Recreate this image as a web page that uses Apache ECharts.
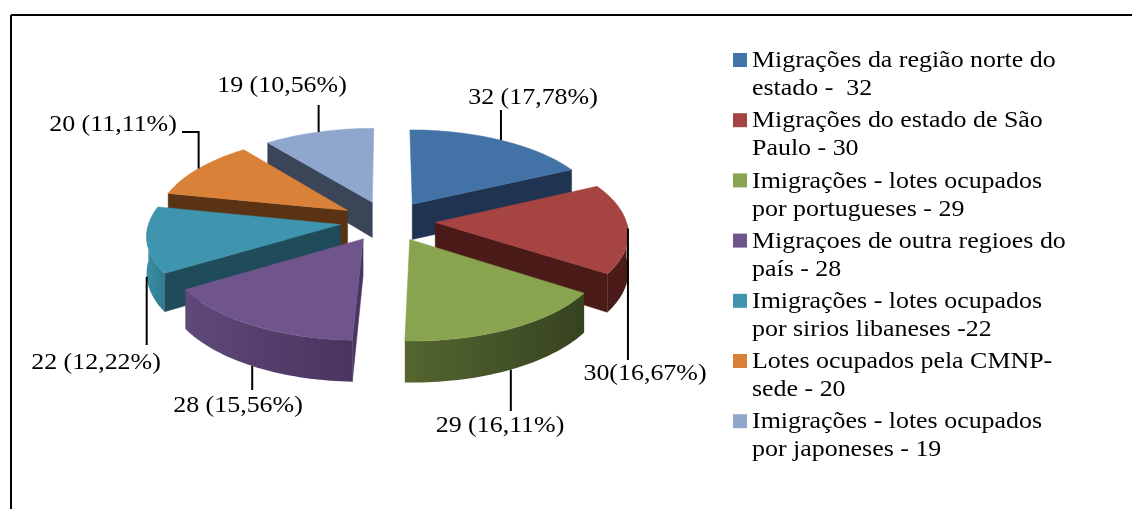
<!DOCTYPE html>
<html><head><meta charset="utf-8">
<style>html,body{margin:0;padding:0;background:#fff}#c{width:1132px;height:509px}</style>
<script src="https://cdn.jsdelivr.net/npm/echarts@6/dist/echarts.min.js"></script>
</head><body><div id="c"></div>
<script>
const categories = [
  'Migrações da região norte do\nestado -  32',
  'Migrações do estado de São\nPaulo - 30',
  'Imigrações - lotes ocupados\npor portugueses - 29',
  'Migraçoes de outra regioes do\npaís - 28',
  'Imigrações - lotes ocupados\npor sirios libaneses -22',
  'Lotes ocupados pela CMNP-\nsede - 20',
  'Imigrações - lotes ocupados\npor japoneses - 19'
];
const values = [32, 30, 29, 28, 22, 20, 19];
const valueLabels = ['32 (17,78%)', '30(16,67%)', '29 (16,11%)', '28 (15,56%)', '22 (12,22%)', '20 (11,11%)', '19 (10,56%)'];
const topColors = ['#4373a6', '#a64442', '#88a44e', '#70558c', '#3f94ae', '#d98139', '#8fa6cd'];
const faceColors = ['#1f3450', '#4a1b18', '#384520', '#4b3560', '#204b5a', '#5a3214', '#3a4558'];
const rimLeft = ['#1f3450', '#4a1b18', '#55662f', '#5e4a78', '#3b8ea6', '#5a3214', '#3a4558'];
const rimRight = ['#1f3450', '#4a1b18', '#364320', '#4a3460', '#2f7a90', '#5a3214', '#3a4558'];
// label layout: text centre, leader end y, optional elbow x
const labelX = [533, 645, 500, 238, 96, 113, 282];
const labelY = [98, 374, 426, 406, 363, 125, 86];
const leaderEndY = [110, 360, 411, 390, 345, 132, 105];
const leaderElbowX = [null, null, null, null, null, 182, null];

// projection of the tilted pie
const CX = 387.5, CY = 221, RX = 191, RY = 86, K = 0.11, DEPTH = 36, EXPLODE_U = 0.25, EXPLODE_V = 0.235;
const TEXT_FONT = 'Liberation Serif', FONT_PX = 24, SX = 1.08;

const total = values.reduce((a, b) => a + b, 0);
function project(u, v, h) {
  const s = 1 / (1 - K * v);
  return [CX + RX * u * s, CY + RY * v * s + h * DEPTH * s];
}
const spans = [];
values.reduce((acc, val) => {
  const a0 = acc / total * 2 * Math.PI, a1 = (acc + val) / total * 2 * Math.PI;
  spans.push([a0, a1]);
  return acc + val;
}, 0);
const mids = spans.map(s => (s[0] + s[1]) / 2);
const order = mids.map((m, i) => [-Math.cos(m), i]).sort((a, b) => a[0] - b[0]).map(p => p[1]);
const rank = values.map((_, i) => order.indexOf(i));

function wedgePoint(i, ang, r, h) {
  const m = mids[i];
  const u = EXPLODE_U * Math.sin(m) + r * Math.sin(ang);
  const v = -EXPLODE_V * Math.cos(m) - r * Math.cos(ang);
  return project(u, v, h);
}
function arcAngles(a0, a1) {
  const out = [], n = 40;
  for (let j = 0; j <= n; j++) out.push(a0 + (a1 - a0) * j / n);
  return out;
}
function renderSlice(params, api) {
  const i = params.dataIndex;
  const [a0, a1] = spans[i];
  const base = rank[i] * 10;
  const children = [];
  const poly = (pts, fill, z2) => children.push({
    type: 'polygon', z2, shape: { points: pts }, style: { fill, stroke: fill, lineWidth: 0.5 }
  });
  const radial = (ang, z2) => poly([
    wedgePoint(i, ang, 0, 0), wedgePoint(i, ang, 1, 0),
    wedgePoint(i, ang, 1, 1), wedgePoint(i, ang, 0, 1)
  ], faceColors[i], z2);
  if (Math.sin(a0) < -1e-6) radial(a0, base);
  if (Math.sin(a1) > 1e-6) radial(a1, base + 1);
  const r0 = Math.max(a0, Math.PI / 2), r1 = Math.min(a1, 3 * Math.PI / 2);
  if (r1 > r0) {
    const arc = arcAngles(r0, r1);
    const pts = arc.map(t => wedgePoint(i, t, 1, 0)).concat(arc.slice().reverse().map(t => wedgePoint(i, t, 1, 1)));
    children.push({
      type: 'polygon', z2: base + 2, shape: { points: pts },
      style: {
        fill: new echarts.graphic.LinearGradient(0, 0, 1, 0, [
          { offset: 0, color: rimLeft[i] }, { offset: 1, color: rimRight[i] }
        ])
      }
    });
  }
  const topPts = [wedgePoint(i, a0, 0, 0)].concat(arcAngles(a0, a1).map(t => wedgePoint(i, t, 1, 0)));
  poly(topPts, topColors[i], base + 3);

  // leader line and value label
  const c = Math.cos(mids[i]);
  const start = wedgePoint(i, mids[i], 1, c < -0.1 ? 1 : 0);
  const line = [start];
  if (leaderElbowX[i] !== null) {
    line.push([start[0], leaderEndY[i]], [leaderElbowX[i], leaderEndY[i]]);
  } else {
    line.push([start[0], leaderEndY[i]]);
  }
  children.push({
    type: 'polyline', z2: 200, shape: { points: line },
    style: { fill: 'none', stroke: '#000', lineWidth: 2 }
  });
  children.push({
    type: 'text', z2: 201, x: labelX[i], y: labelY[i], scaleX: SX,
    style: {
      text: valueLabels[i], x: 0, y: 0, align: 'center', verticalAlign: 'middle',
      font: FONT_PX + 'px "' + TEXT_FONT + '"', fill: '#000'
    }
  });
  return { type: 'group', children };
}

// frame and legend
const graphicEls = [
  { type: 'line', shape: { x1: 11, y1: 15, x2: 1132, y2: 15 }, style: { stroke: '#000', lineWidth: 2 } },
  { type: 'line', shape: { x1: 11, y1: 15, x2: 11, y2: 509 }, style: { stroke: '#000', lineWidth: 2 } }
];
categories.forEach((name, i) => {
  const y = 60 + i * 60.2;
  graphicEls.push({ type: 'rect', shape: { x: 733, y: y - 7, width: 14, height: 14 }, style: { fill: topColors[i] } });
  name.split('\n').forEach((line, j) => {
    graphicEls.push({
      type: 'text', x: 752, y: y + 1 + j * 28, scaleX: SX,
      style: { text: line, x: 0, y: 0, align: 'left', verticalAlign: 'middle', font: FONT_PX + 'px "' + TEXT_FONT + '"', fill: '#000' }
    });
  });
});

const chart = echarts.init(document.getElementById('c'), null, { renderer: 'canvas' });
chart.setOption({
  animation: false,
  backgroundColor: '#fff',
  graphic: graphicEls,
  series: [{
    type: 'custom',
    coordinateSystem: 'none',
    renderItem: renderSlice,
    data: values,
    clip: false
  }]
});
</script></body></html>
